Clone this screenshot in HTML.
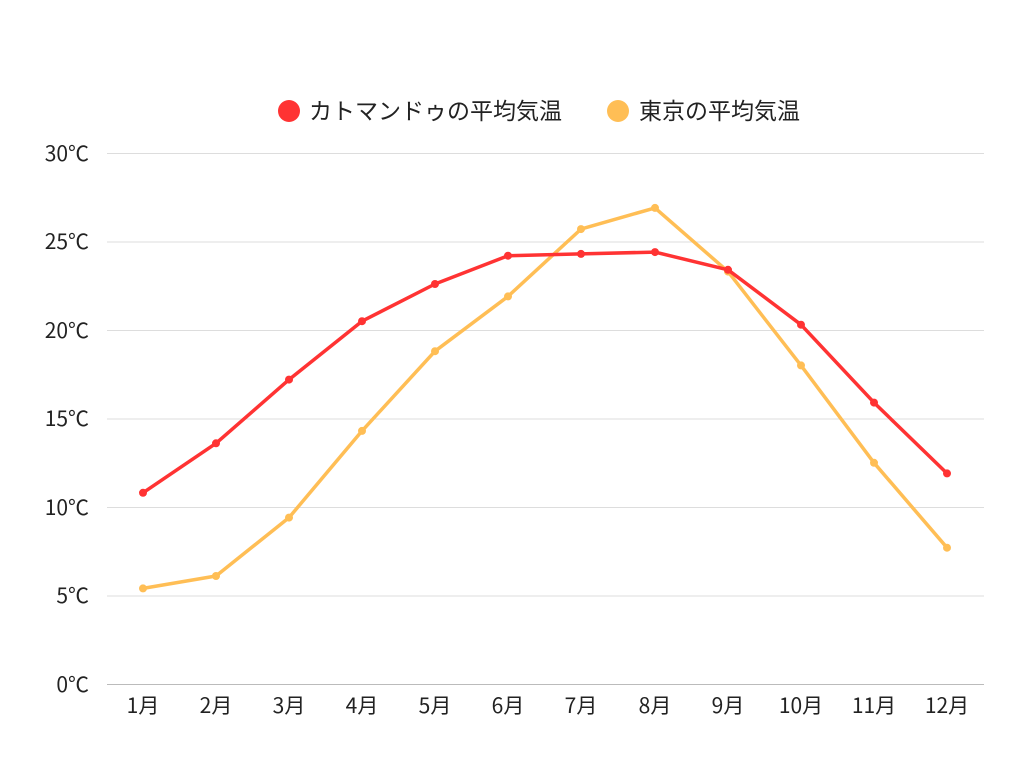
<!DOCTYPE html>
<html><head><meta charset="utf-8"><style>
body{margin:0;background:#fff;}
svg text{font-family:"Noto Sans CJK JP","Liberation Sans",sans-serif;fill:#222;}
</style></head><body>
<svg width="1024" height="768" xmlns="http://www.w3.org/2000/svg">
<g stroke="#ddd" stroke-width="1">
<line x1="107" y1="153.5" x2="984" y2="153.5"/>
<line x1="107" y1="242" x2="984" y2="242"/>
<line x1="107" y1="330.5" x2="984" y2="330.5"/>
<line x1="107" y1="419" x2="984" y2="419"/>
<line x1="107" y1="507.5" x2="984" y2="507.5"/>
<line x1="107" y1="596" x2="984" y2="596"/>
</g>
<line x1="107" y1="684.5" x2="984" y2="684.5" stroke="#bbb" stroke-width="1"/>
<g font-size="21" text-anchor="end">
<text x="89" y="161">30℃</text>
<text x="89" y="249">25℃</text>
<text x="89" y="338">20℃</text>
<text x="89" y="426">15℃</text>
<text x="89" y="515">10℃</text>
<text x="89" y="603">5℃</text>
<text x="89" y="692">0℃</text>
</g>
<g font-size="21" text-anchor="middle">
<text x="143" y="713">1月</text><text x="216" y="713">2月</text><text x="289" y="713">3月</text><text x="362" y="713">4月</text><text x="435" y="713">5月</text><text x="508" y="713">6月</text><text x="581" y="713">7月</text><text x="655" y="713">8月</text><text x="728" y="713">9月</text><text x="801" y="713">10月</text><text x="874" y="713">11月</text><text x="947" y="713">12月</text>
</g>
<polyline fill="none" stroke="#ffbe55" stroke-width="3.5" stroke-linejoin="round" points="143,588.4 216,576 289,517.6 362,430.9 435,351.2 508,296.4 581,229.1 655,207.9 728,271.6 801,365.4 874,462.8 947,547.7"/>
<g fill="#ffbe55">
<circle cx="143" cy="588.4" r="4"/><circle cx="216" cy="576" r="4"/><circle cx="289" cy="517.6" r="4"/><circle cx="362" cy="430.9" r="4"/><circle cx="435" cy="351.2" r="4"/><circle cx="508" cy="296.4" r="4"/><circle cx="581" cy="229.1" r="4"/><circle cx="655" cy="207.9" r="4"/><circle cx="728" cy="271.6" r="4"/><circle cx="801" cy="365.4" r="4"/><circle cx="874" cy="462.8" r="4"/><circle cx="947" cy="547.7" r="4"/>
</g>
<polyline fill="none" stroke="#ff3333" stroke-width="3.5" stroke-linejoin="round" points="143,492.8 216,443.3 289,379.6 362,321.2 435,284 508,255.7 581,253.9 655,252.1 728,269.8 801,324.7 874,402.6 947,473.4"/>
<g fill="#ff3333">
<circle cx="143" cy="492.8" r="4"/><circle cx="216" cy="443.3" r="4"/><circle cx="289" cy="379.6" r="4"/><circle cx="362" cy="321.2" r="4"/><circle cx="435" cy="284" r="4"/><circle cx="508" cy="255.7" r="4"/><circle cx="581" cy="253.9" r="4"/><circle cx="655" cy="252.1" r="4"/><circle cx="728" cy="269.8" r="4"/><circle cx="801" cy="324.7" r="4"/><circle cx="874" cy="402.6" r="4"/><circle cx="947" cy="473.4" r="4"/>
</g>
<circle cx="289" cy="111" r="11" fill="#ff3333"/>
<text x="309" y="119" font-size="23">カトマンドゥの平均気温</text>
<circle cx="618" cy="111" r="11" fill="#ffbe55"/>
<text x="639" y="119" font-size="23">東京の平均気温</text>
</svg>
</body></html>
